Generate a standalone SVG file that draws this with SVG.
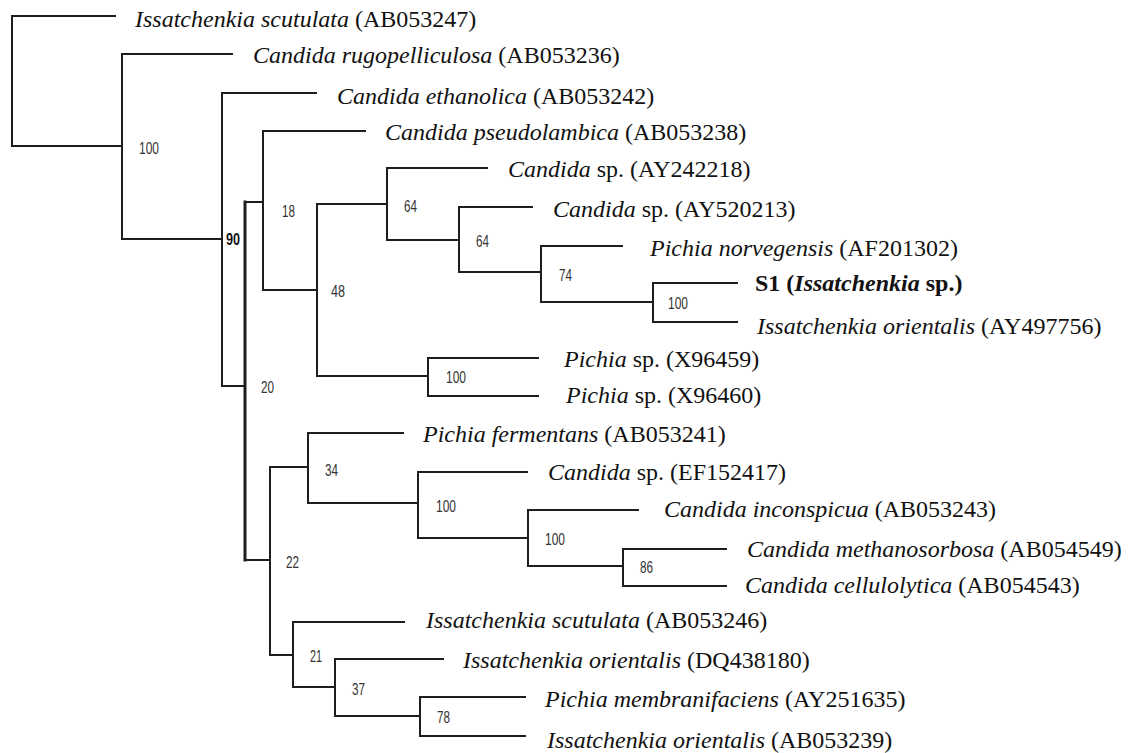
<svg xmlns="http://www.w3.org/2000/svg" width="1132" height="753" viewBox="0 0 1132 753">
<style>
.br{fill:none;stroke:#1e1e1e;stroke-width:2;stroke-linecap:square;stroke-linejoin:miter}
.thick{stroke-width:3}
.lf{font-family:"Liberation Serif","Times New Roman",serif;font-size:24px;fill:#111}
.it{font-style:italic}
.bd{font-weight:bold}
.bs{font-family:"Liberation Sans",Arial,sans-serif;font-size:16px;fill:#333}
.bsb{font-family:"Liberation Sans",Arial,sans-serif;font-size:16px;font-weight:bold;fill:#111}
</style>
<rect width="1132" height="753" fill="#fff"/>
<g id="connectors">
<path class="br" d="M115,16 H12 V146 H122"/>
<path class="br" d="M232,54 H122 V239 H222"/>
<path class="br" d="M316,93 H222 V386 H245"/>
<path class="br" d="M263,202 H245 M245,560 H270"/>
<path class="br thick" d="M245,202 V560"/>
<path class="br" d="M365,131 H263 V290 H317"/>
<path class="br" d="M387,204 H317 V376 H428"/>
<path class="br" d="M487,168 H387 V240 H459"/>
<path class="br" d="M532,207 H459 V272 H541"/>
<path class="br" d="M622,246 H541 V302 H653"/>
<path class="br" d="M737,283 H653 V322 H737"/>
<path class="br" d="M538,358 H428 V396 H538"/>
<path class="br" d="M308,467 H270 V655 H293"/>
<path class="br" d="M403,433 H308 V503 H418"/>
<path class="br" d="M527,472 H418 V538 H528"/>
<path class="br" d="M638,510 H528 V566 H623"/>
<path class="br" d="M726,549 H623 V586 H726"/>
<path class="br" d="M404,622 H293 V687 H335"/>
<path class="br" d="M443,659 H335 V716 H420"/>
<path class="br" d="M525,697 H420 V736 H525"/>
</g>
<g id="bootstrap">
<text class="bs" x="139" y="154" textLength="20" lengthAdjust="spacingAndGlyphs">100</text>
<text class="bsb" x="226" y="245" textLength="14" lengthAdjust="spacingAndGlyphs">90</text>
<text class="bs" x="282" y="217" textLength="13" lengthAdjust="spacingAndGlyphs">18</text>
<text class="bs" x="404" y="212" textLength="13" lengthAdjust="spacingAndGlyphs">64</text>
<text class="bs" x="476" y="247" textLength="13" lengthAdjust="spacingAndGlyphs">64</text>
<text class="bs" x="559" y="281" textLength="13" lengthAdjust="spacingAndGlyphs">74</text>
<text class="bs" x="331" y="297" textLength="14" lengthAdjust="spacingAndGlyphs">48</text>
<text class="bs" x="668" y="309" textLength="20" lengthAdjust="spacingAndGlyphs">100</text>
<text class="bs" x="446" y="383" textLength="20" lengthAdjust="spacingAndGlyphs">100</text>
<text class="bs" x="261" y="393" textLength="13" lengthAdjust="spacingAndGlyphs">20</text>
<text class="bs" x="325" y="476" textLength="13" lengthAdjust="spacingAndGlyphs">34</text>
<text class="bs" x="436" y="512" textLength="20" lengthAdjust="spacingAndGlyphs">100</text>
<text class="bs" x="545" y="545" textLength="20" lengthAdjust="spacingAndGlyphs">100</text>
<text class="bs" x="640" y="573" textLength="13" lengthAdjust="spacingAndGlyphs">86</text>
<text class="bs" x="286" y="568" textLength="13" lengthAdjust="spacingAndGlyphs">22</text>
<text class="bs" x="310" y="662" textLength="12" lengthAdjust="spacingAndGlyphs">21</text>
<text class="bs" x="352" y="695" textLength="13" lengthAdjust="spacingAndGlyphs">37</text>
<text class="bs" x="437" y="723" textLength="13" lengthAdjust="spacingAndGlyphs">78</text>
</g>
<g id="leaf-AB053247"><text class="lf" x="135" y="27"><tspan class="it">Issatchenkia scutulata</tspan> (AB053247)</text></g>
<g id="leaf-AB053236"><text class="lf" x="253" y="63"><tspan class="it">Candida rugopelliculosa</tspan> (AB053236)</text></g>
<g id="leaf-AB053242"><text class="lf" x="337" y="104"><tspan class="it">Candida ethanolica</tspan> (AB053242)</text></g>
<g id="leaf-AB053238"><text class="lf" x="385" y="140"><tspan class="it">Candida pseudolambica</tspan> (AB053238)</text></g>
<g id="leaf-AY242218"><text class="lf" x="508" y="177"><tspan class="it">Candida</tspan> sp. (AY242218)</text></g>
<g id="leaf-AY520213"><text class="lf" x="553" y="217"><tspan class="it">Candida</tspan> sp. (AY520213)</text></g>
<g id="leaf-AF201302"><text class="lf" x="650" y="256"><tspan class="it">Pichia norvegensis</tspan> (AF201302)</text></g>
<g id="leaf-S1"><text class="lf bd" x="755" y="291">S1 (<tspan class="it">Issatchenkia</tspan> sp.)</text></g>
<g id="leaf-AY497756"><text class="lf" x="757" y="334"><tspan class="it">Issatchenkia orientalis</tspan> (AY497756)</text></g>
<g id="leaf-X96459"><text class="lf" x="564" y="367"><tspan class="it">Pichia</tspan> sp. (X96459)</text></g>
<g id="leaf-X96460"><text class="lf" x="566" y="403"><tspan class="it">Pichia</tspan> sp. (X96460)</text></g>
<g id="leaf-AB053241"><text class="lf" x="423" y="442"><tspan class="it">Pichia fermentans</tspan> (AB053241)</text></g>
<g id="leaf-EF152417"><text class="lf" x="548" y="480"><tspan class="it">Candida</tspan> sp. (EF152417)</text></g>
<g id="leaf-AB053243"><text class="lf" x="664" y="517"><tspan class="it">Candida inconspicua</tspan> (AB053243)</text></g>
<g id="leaf-AB054549"><text class="lf" x="747" y="557"><tspan class="it">Candida methanosorbosa</tspan> (AB054549)</text></g>
<g id="leaf-AB054543"><text class="lf" x="745" y="593"><tspan class="it">Candida cellulolytica</tspan> (AB054543)</text></g>
<g id="leaf-AB053246"><text class="lf" x="426" y="628"><tspan class="it">Issatchenkia scutulata</tspan> (AB053246)</text></g>
<g id="leaf-DQ438180"><text class="lf" x="463" y="668"><tspan class="it">Issatchenkia orientalis</tspan> (DQ438180)</text></g>
<g id="leaf-AY251635"><text class="lf" x="545" y="707"><tspan class="it">Pichia membranifaciens</tspan> (AY251635)</text></g>
<g id="leaf-AB053239"><text class="lf" x="547" y="748"><tspan class="it">Issatchenkia orientalis</tspan> (AB053239)</text></g>
</svg>
